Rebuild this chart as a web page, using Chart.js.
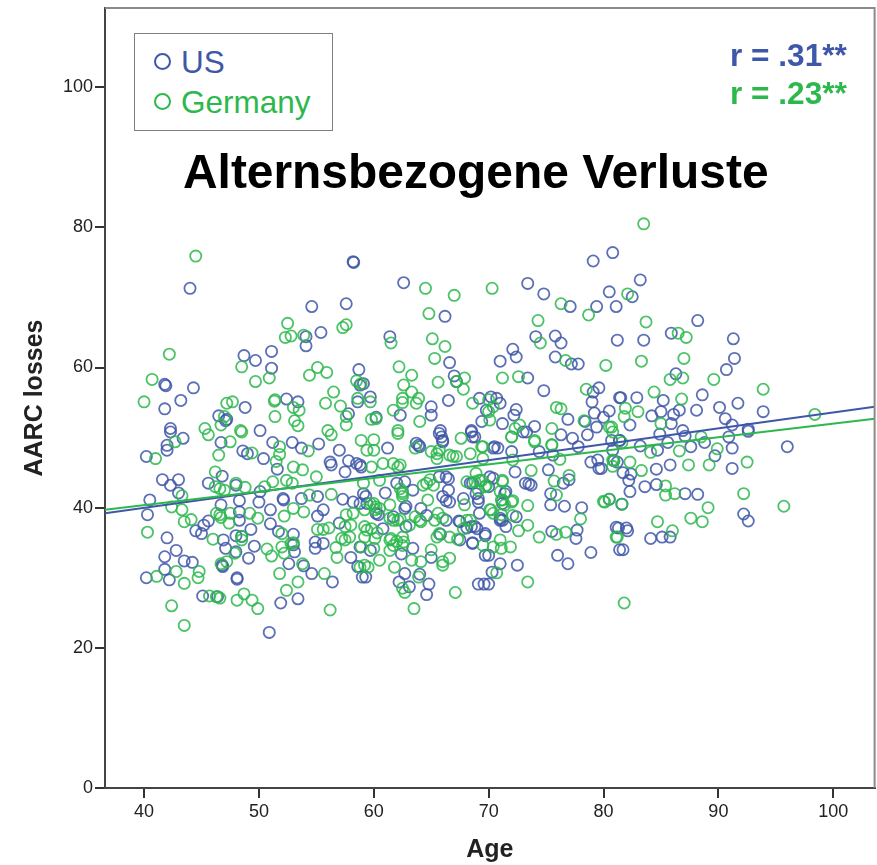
<!DOCTYPE html>
<html><head><meta charset="utf-8">
<script src="https://cdn.jsdelivr.net/npm/chart.js@4"></script>
<style>
html,body{margin:0;padding:0;background:#fff;width:877px;height:865px;overflow:hidden;font-family:"Liberation Sans",Arial,sans-serif}
#wrap{position:relative;width:877px;height:865px;overflow:hidden}
canvas{position:absolute;left:0;top:0}
.t{position:absolute;white-space:nowrap;line-height:1}
#box{position:absolute;left:134px;top:33px;width:197px;height:96px;border:1px solid #808080;background:#fff}
.dot{position:absolute;width:13px;height:13px;border:2.5px solid;border-radius:50%;box-sizing:content-box}
</style></head><body>
<div id="wrap">
<canvas id="c" width="882" height="865"></canvas>
<div id="box"></div>
<div class="dot" style="left:154px;top:53px;border-color:#3f57a8"></div>
<div class="dot" style="left:154px;top:93px;border-color:#2db84d"></div>
<div class="t" style="left:181px;top:47px;font-size:31.5px;color:#3f57a8">US</div>
<div class="t" style="left:181px;top:87px;font-size:31.5px;color:#2db84d">Germany</div>
<div class="t" style="left:730px;top:40px;font-size:31.6px;font-weight:bold;color:#3f57a8">r = .31**</div>
<div class="t" style="left:730px;top:78px;font-size:31.6px;font-weight:bold;color:#2db84d">r = .23**</div>
<div class="t" style="left:183px;top:148px;font-size:47.9px;font-weight:bold;color:#000">Alternsbezogene Verluste</div>
</div>
<script>
const xTicks=[40,50,60,70,80,90,100];
const yTicks=[0,20,40,60,80,100];
const usFit=[[36.6,39.2],[103.6,54.4]];
const germanyFit=[[36.6,39.7],[103.6,52.7]];
const usPoints=[
[58.2,75.1],[58.25,75],[44.0,71.3],[54.6,68.7],[57.6,69.1],[55.4,65.0],[54.1,64.4],[54.1,63.1],[48.7,61.7],[49.7,61.0],[51.1,62.3],[51.1,59.9],[58.7,59.7],[58.8,57.5],[41.8,57.6],[41.9,57.4],[44.3,57.1],[43.2,55.3],[41.8,54.1],[48.8,54.3],[46.5,53.1],[47.2,52.6],[47.1,52.4],[50.1,51],[42.3,51.3],[52.4,55.5],[53.4,55.1],[58.6,55.1],[57.8,53.4],
[42.3,50.8],[43.4,49.9],[42,48.9],[42,48.2],[40.2,47.3],[46.7,49.3],[51.2,49.3],[52.9,49.3],[48.6,48.1],[49,47.7],[50.4,47],[51.6,45.5],[55.2,49.1],[53.7,48.5],[57,48.2],[56.2,46.5],[56.3,46.1],[57.8,46.7],[57.5,45.1],[41.6,44],[43,44],[42.3,43.2],[43,42.1],[45.6,43.5],[46.8,44.5],[48,43.2],[40.5,41.1],[40.3,39],[46.7,40.4],[48.3,41],[48.3,39.4],[48.3,38.2],[50.1,42.3],[50,40.8],[51,39.7],[51,37.7],[52.1,41.3],[52.15,41.1],[53.7,41.3],[55.1,41.6],[55.6,39.7],[55.1,38.8],[57.3,41.2],[58.2,40.8],[57,37.8],[44.5,36.7],[45.2,37.5],[45.6,38.1],[45,36.3],[42,35.7],[42.8,33.9],[41.8,33],[43.5,32.4],[44.2,32.2],[41.8,31.2],[40.2,30],[42.2,29.7],[46.9,35.4],[47.1,34.2],[49.3,36.9],[48.5,35.9],[48,36],[49.6,34.5],[49.1,32.8],[48,33.7],[46.8,31.8],[46.85,31.6],[48.1,30],[48.1,29.8],[45.1,27.4],[46.4,27.3],[51.9,26.4],[53.4,27],[50.9,22.2],[52.6,32],[53.9,31.7],[54.6,30.6],[56.4,29.4],[53,36.2],[51.7,36.6],[53,34.7],[53.1,33.7],[54.9,35.1],[54.9,34.2],[55.6,34.9],[58,32.9],[58.6,31.6],[59,30.1],
[62.6,72.1],[66.2,67.3],[61.4,64.4],[66.6,60.7],[67,58.8],[67.2,58],[66.5,55.3],[65,54.4],[65,53.2],[62.3,53.2],[60.2,52.9],[59.1,57.7],[59.7,55.8],[73.4,72],[74.8,70.5],[77.1,68.7],[79.4,68.7],[80.5,70.8],[81.1,68.7],[79.1,75.2],[80.8,76.4],[74.1,64.4],[75.8,64.5],[76.3,63.5],[75.8,61.5],[77.2,60.5],[77.8,60.5],[81.2,63.9],[72.1,62.6],[72.4,61.5],[71,60.9],[73.4,58.5],[74.8,56.7],[79.6,57.1],[79.1,56.5],[79,55.1],[79.2,53.5],[80.5,53.8],[81.4,55.7],[76.9,52.6],[78.4,52.3],[80,52.9],[79.4,51.5],[69.2,55.6],[70.2,55.8],[71,54.9],[70.7,55.6],[69.8,53.9],[72.4,54],[72.2,53.2],[69.4,52.3],[71.2,52],[74,51.6],[68.5,51],[65.8,51],
[78.9,46.5],[79.6,45.6],[79.5,46.8],[81.2,46.5],[72.3,45.1],[75.2,45.4],[73.2,43.5],[73.7,43.2],[73.5,43.4],[76.5,43.5],[77,44],[75.4,42],[75.4,40.4],[76.6,40.2],[78.1,40],[72.4,38.7],[71.5,37.3],[69.7,36.3],[68.6,35],[75.5,36.6],[77.7,36.8],[77.6,35.6],[81.1,37.2],[78.9,33.6],[76,33.2],[76.9,32],[81.4,34],[72.5,31.8],[71,32],[70.3,30.8],[70,33.2],[69.7,33.2],[69.1,29.1],[69.6,29.1],[70,29.1],[64.8,29.1],[64.6,27.6],[62.7,30.6],[62.2,29.4],[63.1,28.7],[64,30.5],[59.3,30.1],[65,32.9],[63.4,34.2],[62.4,33.4],[69,37],[67.4,38.1],[68.5,37.3],[65.8,36.2],[67.5,35.4],[66.3,38.2],[71,38.2],[69.2,39.2],[67.8,41.3],[69.1,41.3],[66.6,40.8],[66.5,42.5],[62.8,40.2],[61,42.1],[59.3,41.6],[60.2,39.2],[58.8,40.6],[64.1,39.9],[63.4,42.5],[62,43.5],[71.5,42.3],[71.2,40.6],[70.4,44.2],[68.6,43.5],[66.3,44.4],[65.7,44.4],[58.9,45.8],[61.2,48.5],[63.9,48.9],[65.9,50.1],[68.6,50.1],[70.4,48.5],[70.8,48.5],[73.3,50.8],[77.3,49.9],[78.6,50.4],[77.8,48.7],[76.3,50.4],[68.5,50.8],[66,49.4],[81.4,49.6],[80.8,48.2],[60.8,37],[59.7,33.9],[58.8,34.4],[62.8,37.3],[61.7,38.7],[64.6,38.9],
[83.2,72.5],[82.5,70.1],[88.2,66.7],[85.9,64.9],[83.5,63.9],[91.3,64.1],[91.4,61.3],[90.7,59.7],[86.3,59.1],[88.6,56.1],[85.2,55.3],[81.5,55.7],[82.9,55.7],[91.7,54.9],[90.1,54.3],[88.1,53.9],[86.6,53.9],[86.1,53.3],[85,53.7],[84.2,53.1],[93.9,53.7],[90.6,52.7],[91.2,51.8],[92.6,51.2],[86.9,51],[85.9,52],[82.3,51.8],
[96,48.7],[91.2,48.5],[92.6,50.9],[90.9,50.1],[89.7,47.4],[91.2,45.6],[88.8,49.3],[87.6,48.7],[87.1,50.2],[85.6,49.3],[84.7,48.2],[83.2,48.8],[84.9,50.5],[81.4,49.6],[80.7,49.6],[85.8,46.1],[84.6,45.5],[80.9,46.7],[79.8,45.6],[81.7,45],[82.4,44.8],[82.2,43.9],[82.3,42.3],[83.6,43],[84.6,43.3],[87.1,42],[88.2,41.9],[80.5,41.2],[81.6,40.5],[92.2,39.1],[92.6,38.1],[81.3,37.1],[82,37.1],[82.1,36.7],[84.1,35.6],[85.1,35.8],[85.8,35.8],[81.7,34],
[62.7,39.9],[66,41.6],[66.3,41],[66.5,44.1],[58.8,46.1],[59.1,42],[59.4,40.6],[60.4,39],[67.5,38],[68.1,37.1],[62.7,43.7],[63.7,49.2],[64,48.7],[65.7,50.6],[66,49.6],[70.1,44.4],[70,43],[69.1,40.8],[68.9,42],[68.4,43.5],[71.4,42],[71,38.5],[71.2,38.2],[68.8,37.3],[68.6,34.9],[69.7,36],[68.8,50.1],[70.5,48.7],[72,48],[73,50.8],[74.4,48],[75.6,47.5],[58.5,46.3]
];
const germanyPoints=[
[44.5,75.9],[42.2,61.9],[40.7,58.3],[40.0,55.1],[48.5,60.1],[49.7,58.0],[50.9,58.5],[52.5,66.3],[52.3,64.3],[52.8,64.5],[53.9,64.6],[57.3,65.7],[57.6,66.1],[54.4,58.9],[55.1,60],[55.9,59.3],[56.5,56.5],[55.8,54.9],[57.1,54.5],[58.5,58.1],[51.4,55.4],[51.35,55.2],[51.4,53.0],[47.2,54.9],[47.7,55.1],[53,54.3],[53.5,53.9],[53.1,52.4],[53.4,51.7],[45.3,51.3],[46.7,51.8],[47,53],[48.4,51],[57.6,53],[57.6,51.8],[58.6,55.6],[56,51],
[41,47],[42.7,49.4],[45.6,50.4],[47.5,49.4],[48.5,50.8],[46.5,47.5],[49.4,47.8],[51.8,48.7],[51.8,47.6],[51.5,46.6],[53,45.8],[53.8,45.4],[54.3,48.1],[56.3,50.4],[55,44.4],[46.2,45.1],[46.2,43],[46.6,42.7],[48,43.5],[48.8,42.9],[47,42.5],[50.5,43],[51.2,43.7],[52.4,43.9],[52.9,43.5],[43.3,41.7],[42.4,40.1],[43.3,39.7],[43.5,38],[44.1,38.3],[40.3,36.5],[46.3,39.2],[46.6,39],[46.7,38.6],[47.5,39.2],[47.4,37.8],[49.2,39.2],[49.9,38.5],[52.2,38.8],[53,39.9],[53.9,39.4],[54.4,41.8],[56.3,41.9],[55.1,36.9],[55.6,36.9],[56.1,37.1],[46,35.5],[48.5,35.9],[48.5,35.4],[50.7,34.1],[51.1,33.1],[52,36.3],[52,34.4],[52.8,34.9],[53,35],[52.2,33.5],[53.8,32],[55.7,30.6],[47.9,33.5],[47.2,32.3],[46.7,32],[44.8,30.9],[44.7,30],[42.8,30.9],[43.5,29.2],[41.1,30.2],[42.4,26],[43.5,23.2],[45.7,27.4],[46.3,27.3],[46.6,27.1],[48.7,27.7],[49.4,26.8],[48.1,26.8],[49.9,25.6],[52.4,28.2],[53.4,29.4],[51.8,30.6],[56.2,25.4],[56.7,34.3],[56.8,32.9],[57.2,35.6],[57.9,35.8],[57.5,35.4],[58.9,34.4],[57.6,39],[58.2,39.2],[57.5,37.3],[58,37.5],[59.2,31.8],
[64.5,71.3],[67,70.3],[70.3,71.3],[64.8,67.7],[61.5,63.5],[65.1,64.1],[66.2,63],[65.3,61.3],[62.2,60.1],[63.3,58.9],[62.6,57.5],[63.3,56.5],[62.5,55.6],[62.5,55],[63.9,55.6],[63.7,54.9],[61.7,53.9],[64,52.3],[65.6,57.9],[67.9,58.5],[67.2,58],[67.8,56.9],[68.6,54.9],[76.3,69.1],[74.3,66.7],[78.7,67.5],[74.5,63.5],[76.7,61],[80.2,60.3],[71.2,58.5],[72.6,58.7],[78.5,56.9],[75.9,54.3],[76.3,54.1],[70,55.4],[70.4,54.4],[70,53.7],[70.1,52.5],[59.8,52.6],[60.2,52.7],[59.7,55.1],[58.9,57.7],[78.3,52.4],[72.7,51.8],[72.3,51.3],[75.5,51.3],[80.5,51.5],[62.1,51],
[73.7,45.3],[76.2,46.9],[77,44.6],[75.7,43.8],[75.9,41.8],[73.4,40.3],[80.1,40.8],[80.5,41.2],[78,38.4],[73.4,37.5],[72.6,36.7],[74.4,35.8],[75.9,36.2],[76.7,36.5],[81.1,35.8],[71.9,34.4],[71,35.4],[71.1,34.2],[70.4,34.4],[69.5,34.6],[70.7,30.7],[73.4,29.4],[67.1,27.9],[63.5,25.6],[62.7,27.9],[62.5,28.5],[63.9,30.1],[61.8,31.5],[60.5,32.5],[59.5,31.5],[58.8,31.5],[63.3,32.5],[64.1,32.3],[65,34],[66.6,32.8],[66,32.3],[66,31.8],[71.1,41.1],[72.1,41],[70.2,39.7],[71.1,39],[67.9,40.4],[69.1,42.5],[69.8,43.2],[71.2,43.9],[69.4,43.9],[68.1,43.7],[64.7,41.1],[64.6,43.5],[62.5,42.3],[62.5,41.6],[61.4,40.4],[60.2,40.1],[59.7,40.6],[59.1,43.5],[60.5,43.9],[59.8,45.8],[60.8,46.3],[62.3,46.1],[59.4,48.2],[60,48.2],[60,49.7],[63.6,48.5],[65.5,47.7],[65.7,48.2],[66.9,47.3],[67.6,49.9],[69.5,48.7],[72,50.1],[74,49.4],[75.5,48.9],[62.1,50.6],[80.8,46.8],
[59.4,36.8],[59.8,37],[59.2,35.8],[60.1,35.6],[61.5,35.6],[61.7,34.6],[62.5,35.8],[62.5,34.6],[61.4,38.5],[62.1,38.2],[60.1,39.7],[63.6,38.7],[65.6,39.2],[65.3,38.2],[63.1,37.5],[64.1,38],[65.5,35.8],[66.6,35.8],[67.3,35.5],[68.1,38.2],[67.8,37],[60,34.2],[61.4,33.9],
[83.5,80.5],[82.1,70.5],[83.7,66.5],[83.3,60.9],[86.5,64.9],[87.2,64.3],[87,61.3],[89.6,58.3],[85.8,58.3],[86.9,58.5],[84.4,56.5],[86.8,55.5],[93.9,56.9],[81.9,54.2],[83,53.7],[81.8,53],[85,52],[98.4,53.3],[80.7,51.5],
[88.5,50.1],[89.9,48.4],[89.2,46.1],[87.4,46.1],[92.5,46.5],[86.6,48.1],[84.1,47.9],[83.3,45.3],[82.3,46.5],[80.9,46.7],[80.8,45.9],[85.4,43.1],[85.4,41.8],[86.2,42],[92.2,42],[95.7,40.2],[89.1,40],[87.6,38.5],[88.6,38],[84.7,38],[86,36.7],[81.6,40.5],[80,40.9],[81.2,35.8],[81.8,26.4],[81.6,49.3],[80.8,50.8],
[58.9,49.6],[59.2,37.3],[60.3,36.4],[61.4,35.4],[62,35.2],[62.6,35.1],[61.7,46.3],[62.1,45.8],[65,48],[65.5,47],[66.6,47.5],[67.2,47.3],[62.5,42],[62.3,42.7],[64.9,44],[64.3,43.2],[65.2,43.2],[60,40.6],[60.5,39.9],[59.2,39.7],[61.7,38.2],[62.3,38.4],[64,38.2],[65.7,36.3],[66,38.5],
[68.9,44.9],[69.2,43.9],[69.7,43],[68.8,43.7],[71.2,43.7],[71,42.3],[71.2,41.1],[72,40.8],[71.4,40.4],[70.1,39.7],[70.4,39.2],[68.4,38.2],[72.1,38.9],[72,50.1],[74,49.6],[75.5,49],[69.4,48.7],[68.4,47.7],[69.5,47],[72.1,46.8]
];
const toXY=a=>a.map(p=>({x:p[0],y:p[1]}));
const blue='rgba(63,87,168,0.85)',green='rgba(45,184,77,0.85)';
const scat=(label,pts,col,order)=>({type:'scatter',label,data:toXY(pts),order,showLine:false,pointStyle:'circle',pointRadius:5.6,pointBorderWidth:1.8,pointBackgroundColor:'rgba(0,0,0,0)',pointBorderColor:col});
const fit=(label,pts,col,order)=>({type:'line',label,data:toXY(pts),order,borderColor:col,borderWidth:2,pointRadius:0,tension:0,fill:false});
const frame={id:'frame',afterDraw(ch){const a=ch.chartArea,c=ch.ctx;c.save();c.strokeStyle='#8a8a8a';c.lineWidth=2;c.beginPath();c.moveTo(a.left,a.top);c.lineTo(a.right,a.top);c.lineTo(a.right,a.bottom);c.stroke();c.restore();}};
const tickFont={family:'"Liberation Sans",Arial,sans-serif',size:18};
const titleFont={family:'"Liberation Sans",Arial,sans-serif',size:25,weight:'bold'};
const noPad=s=>{s.paddingLeft=0;s.paddingRight=0;s.paddingTop=0;s.paddingBottom=0;};
new Chart(document.getElementById('c'),{
 type:'scatter',
 data:{datasets:[scat('US',usPoints,blue,4),scat('Germany',germanyPoints,green,3),fit('US fit',usFit,'#3f57a8',2),fit('Germany fit',germanyFit,'#2db84d',1)]},
 options:{responsive:false,animation:false,events:[],
  layout:{padding:{top:8,right:0,left:0,bottom:0}},
  plugins:{legend:{display:false},tooltip:{enabled:false},title:{display:false}},
  scales:{
   x:{type:'linear',min:36.6,max:103.6,afterFit(s){s.height=77;noPad(s)},afterBuildTicks(s){s.ticks=xTicks.map(v=>({value:v}))},
    grid:{drawOnChartArea:false,drawTicks:true,tickLength:10,color:'#333',lineWidth:2},border:{color:'#444',width:2},
    ticks:{font:tickFont,color:'#222',padding:3,maxRotation:0,autoSkip:false},
    title:{display:true,text:'Age',font:titleFont,color:'#222',padding:{top:13,bottom:0}}},
   y:{type:'linear',min:0,max:111.3,afterFit(s){s.width=105;noPad(s)},afterBuildTicks(s){s.ticks=yTicks.map(v=>({value:v}))},
    grid:{drawOnChartArea:false,drawTicks:true,tickLength:10,color:'#333',lineWidth:2},border:{color:'#444',width:2},
    ticks:{font:tickFont,color:'#222',padding:2,autoSkip:false},
    title:{display:true,text:'AARC losses',font:titleFont,color:'#222',padding:{top:20,bottom:0}}}
  }
 },
 plugins:[frame]
});
</script>
</body></html>
